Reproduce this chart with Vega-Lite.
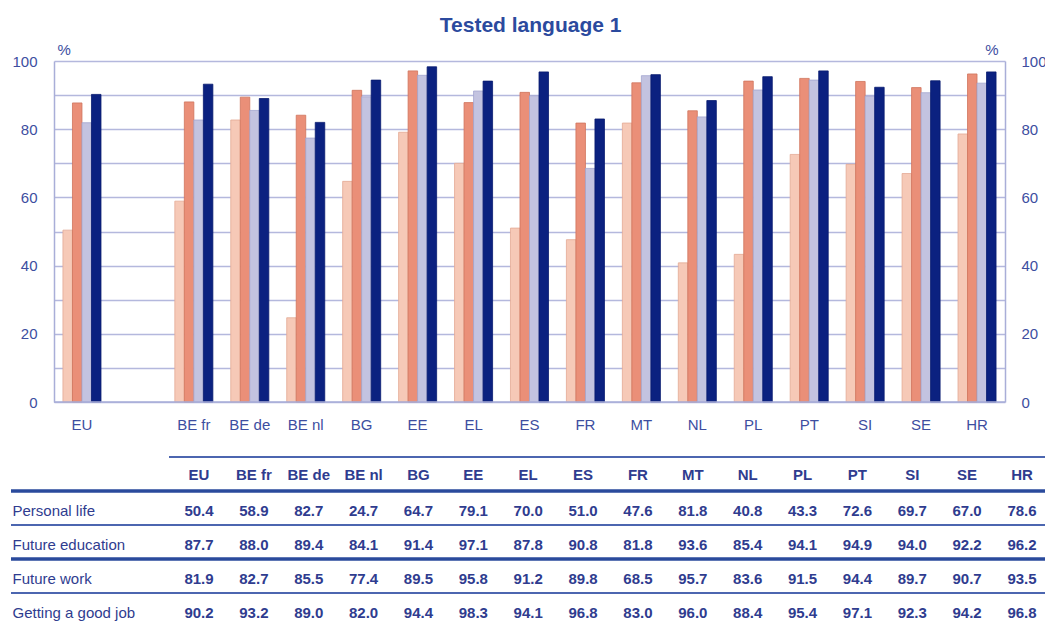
{
  "$schema": "https://vega.github.io/schema/vega-lite/v6.json",
  "padding": {"left": 9, "top": 15, "right": 0, "bottom": 0},
  "background": "white",
  "title": {
    "text": "Tested language 1",
    "anchor": "middle",
    "fontSize": 21,
    "fontWeight": "bold",
    "color": "#2B4A9E",
    "offset": 6
  },
  "datasets": {
    "scores": [
      {"country": "EU", "Personal life": 50.4, "Future education": 87.7, "Future work": 81.9, "Getting a good job": 90.2},
      {"country": "BE fr", "Personal life": 58.9, "Future education": 88.0, "Future work": 82.7, "Getting a good job": 93.2},
      {"country": "BE de", "Personal life": 82.7, "Future education": 89.4, "Future work": 85.5, "Getting a good job": 89.0},
      {"country": "BE nl", "Personal life": 24.7, "Future education": 84.1, "Future work": 77.4, "Getting a good job": 82.0},
      {"country": "BG", "Personal life": 64.7, "Future education": 91.4, "Future work": 89.5, "Getting a good job": 94.4},
      {"country": "EE", "Personal life": 79.1, "Future education": 97.1, "Future work": 95.8, "Getting a good job": 98.3},
      {"country": "EL", "Personal life": 70.0, "Future education": 87.8, "Future work": 91.2, "Getting a good job": 94.1},
      {"country": "ES", "Personal life": 51.0, "Future education": 90.8, "Future work": 89.8, "Getting a good job": 96.8},
      {"country": "FR", "Personal life": 47.6, "Future education": 81.8, "Future work": 68.5, "Getting a good job": 83.0},
      {"country": "MT", "Personal life": 81.8, "Future education": 93.6, "Future work": 95.7, "Getting a good job": 96.0},
      {"country": "NL", "Personal life": 40.8, "Future education": 85.4, "Future work": 83.6, "Getting a good job": 88.4},
      {"country": "PL", "Personal life": 43.3, "Future education": 94.1, "Future work": 91.5, "Getting a good job": 95.4},
      {"country": "PT", "Personal life": 72.6, "Future education": 94.9, "Future work": 94.4, "Getting a good job": 97.1},
      {"country": "SI", "Personal life": 69.7, "Future education": 94.0, "Future work": 89.7, "Getting a good job": 92.3},
      {"country": "SE", "Personal life": 67.0, "Future education": 92.2, "Future work": 90.7, "Getting a good job": 94.2},
      {"country": "HR", "Personal life": 78.6, "Future education": 96.2, "Future work": 93.5, "Getting a good job": 96.8}
    ]
  },
  "spacing": 24,
  "vconcat": [
    {
      "width": 951,
      "height": 341,
      "layer": [
        {
          "data": {"name": "scores"},
          "transform": [
            {"fold": ["Personal life", "Future education", "Future work", "Getting a good job"], "as": ["series", "value"]}
          ],
          "mark": {"type": "bar", "strokeWidth": 0.8},
          "encoding": {
            "x": {
              "field": "country",
              "type": "nominal",
              "scale": {
                "domain": ["EU", " ", "BE fr", "BE de", "BE nl", "BG", "EE", "EL", "ES", "FR", "MT", "NL", "PL", "PT", "SI", "SE", "HR"],
                "paddingInner": 0.32,
                "paddingOuter": 0.16
              },
              "axis": {
                "title": null,
                "domain": false,
                "ticks": false,
                "labelAngle": 0,
                "labelPadding": 15,
                "labelFontSize": 15,
                "labelColor": "#3D4E9F"
              }
            },
            "xOffset": {
              "field": "series",
              "type": "nominal",
              "scale": {
                "domain": ["Personal life", "Future education", "Future work", "Getting a good job"],
                "paddingInner": 0,
                "paddingOuter": 0
              }
            },
            "y": {
              "field": "value",
              "type": "quantitative",
              "scale": {"domain": [0, 100], "nice": false},
              "axis": {
                "orient": "left",
                "values": [0, 10, 20, 30, 40, 50, 60, 70, 80, 90, 100],
                "labelExpr": "datum.value % 20 === 0 ? datum.label : ''",
                "grid": true,
                "gridColor": "#B4B8DD",
                "gridWidth": 1.5,
                "domain": true,
                "domainColor": "#A9AED8",
                "domainWidth": 1.5,
                "ticks": false,
                "labelPadding": 17,
                "labelFontSize": 15,
                "labelColor": "#3D4E9F",
                "title": "%",
                "titleAngle": 0,
                "titleAlign": "left",
                "titleBaseline": "alphabetic",
                "titleX": 3,
                "titleY": -7,
                "titleFontSize": 15,
                "titleFontWeight": "normal",
                "titleColor": "#3D4E9F"
              }
            },
            "color": {
              "field": "series",
              "type": "nominal",
              "scale": {
                "domain": ["Personal life", "Future education", "Future work", "Getting a good job"],
                "range": ["#F6C9B7", "#EA8F78", "#C3C3E0", "#0B2180"]
              },
              "legend": null
            },
            "stroke": {
              "field": "series",
              "type": "nominal",
              "scale": {
                "domain": ["Personal life", "Future education", "Future work", "Getting a good job"],
                "range": ["#E3A994", "#CF735C", "#A3A6CF", "#081A6E"]
              },
              "legend": null
            }
          }
        },
        {
          "data": {"values": [{}]},
          "mark": {"type": "rule", "color": "#A9AED8", "strokeWidth": 1.5},
          "encoding": {
            "y": {
              "datum": 0,
              "type": "quantitative",
              "scale": {"domain": [0, 100], "nice": false},
              "axis": {
                "orient": "right",
                "values": [0, 20, 40, 60, 80, 100],
                "grid": false,
                "domain": true,
                "domainColor": "#A9AED8",
                "domainWidth": 1.5,
                "ticks": false,
                "labelPadding": 16,
                "labelAlign": "left",
                "labelFontSize": 15,
                "labelColor": "#3D4E9F",
                "title": "%",
                "titleAngle": 0,
                "titleAlign": "right",
                "titleBaseline": "alphabetic",
                "titleX": -7,
                "titleY": -7,
                "titleFontSize": 15,
                "titleFontWeight": "normal",
                "titleColor": "#3D4E9F"
              }
            }
          }
        }
      ],
      "resolve": {"scale": {"y": "independent"}}
    },
    {
      "width": 993,
      "height": 170,
      "data": {"name": "scores"},
      "transform": [
        {"fold": ["country", "Personal life", "Future education", "Future work", "Getting a good job"], "as": ["row", "cell"]}
      ],
      "encoding": {
        "y": {
          "field": "row",
          "type": "nominal",
          "scale": {"domain": ["country", "Personal life", "Future education", "Future work", "Getting a good job"], "paddingInner": 0, "paddingOuter": 0},
          "axis": {
            "orient": "left",
            "title": null,
            "domain": false,
            "ticks": false,
            "grid": false,
            "labelAlign": "left",
            "labelBaseline": "middle",
            "labelPadding": 42,
            "labelOffset": 3,
            "labelFontSize": 15,
            "labelColor": "#2F3C8F",
            "labelExpr": "datum.value === 'country' ? '' : datum.label"
          }
        }
      },
      "layer": [
        {
          "transform": [
            {"filter": "datum.country === 'EU' && (datum.row === 'country' || datum.row === 'Future education')"}
          ],
          "mark": {"type": "rule", "color": "#2A4A9C", "strokeWidth": 3.5, "xOffset": -43},
          "encoding": {
            "x": {"datum": 0, "type": "quantitative", "scale": {"domain": [0, 1]}, "axis": null},
            "x2": {"datum": 1},
            "y": {"field": "row", "type": "nominal", "bandPosition": 1}
          }
        },
        {
          "transform": [
            {"filter": "datum.country === 'EU' && (datum.row === 'Personal life' || datum.row === 'Future work')"}
          ],
          "mark": {"type": "rule", "color": "#4C66B0", "strokeWidth": 2, "xOffset": -43},
          "encoding": {
            "x": {"datum": 0, "type": "quantitative", "scale": {"domain": [0, 1]}, "axis": null},
            "x2": {"datum": 1},
            "y": {"field": "row", "type": "nominal", "bandPosition": 1}
          }
        },
        {
          "transform": [
            {"filter": "datum.country === 'EU' && datum.row === 'Getting a good job'"}
          ],
          "mark": {"type": "rule", "color": "#D3D8EC", "strokeWidth": 1, "xOffset": -43},
          "encoding": {
            "x": {"datum": 0, "type": "quantitative", "scale": {"domain": [0, 1]}, "axis": null},
            "x2": {"datum": 1},
            "y": {"field": "row", "type": "nominal", "bandPosition": 1}
          }
        },
        {
          "transform": [
            {"filter": "datum.row === 'country'"}
          ],
          "mark": {"type": "tick", "orient": "horizontal", "size": 60, "thickness": 2, "color": "#4C66B0", "opacity": 1},
          "encoding": {
            "x": {
              "field": "country",
              "type": "nominal",
              "scale": {
                "type": "point",
                "domain": [" ", "  ", "EU", "BE fr", "BE de", "BE nl", "BG", "EE", "EL", "ES", "FR", "MT", "NL", "PL", "PT", "SI", "SE", "HR"],
                "padding": 0.5495,
                "align": 0.585
              },
              "axis": null
            },
            "y": {"field": "row", "type": "nominal", "bandPosition": 0}
          }
        },
        {
          "transform": [
            {"filter": "datum.row === 'country'"}
          ],
          "mark": {"type": "text", "fontSize": 15, "fontWeight": "bold", "color": "#2F3C8F", "dy": 1},
          "encoding": {
            "x": {
              "field": "country",
              "type": "nominal",
              "scale": {
                "type": "point",
                "domain": [" ", "  ", "EU", "BE fr", "BE de", "BE nl", "BG", "EE", "EL", "ES", "FR", "MT", "NL", "PL", "PT", "SI", "SE", "HR"],
                "padding": 0.5495,
                "align": 0.585
              },
              "axis": null
            },
            "text": {"field": "cell", "type": "nominal"}
          }
        },
        {
          "transform": [
            {"filter": "datum.row !== 'country'"}
          ],
          "mark": {"type": "text", "fontSize": 15, "fontWeight": "bold", "color": "#2F3C8F", "dy": 3},
          "encoding": {
            "x": {
              "field": "country",
              "type": "nominal",
              "scale": {
                "type": "point",
                "domain": [" ", "  ", "EU", "BE fr", "BE de", "BE nl", "BG", "EE", "EL", "ES", "FR", "MT", "NL", "PL", "PT", "SI", "SE", "HR"],
                "padding": 0.5495,
                "align": 0.585
              },
              "axis": null
            },
            "text": {"field": "cell", "type": "quantitative", "format": ".1f"}
          }
        }
      ],
      "resolve": {"scale": {"x": "independent"}}
    }
  ],
  "config": {
    "font": "Liberation Sans, Arial, sans-serif",
    "view": {"stroke": null}
  }
}
